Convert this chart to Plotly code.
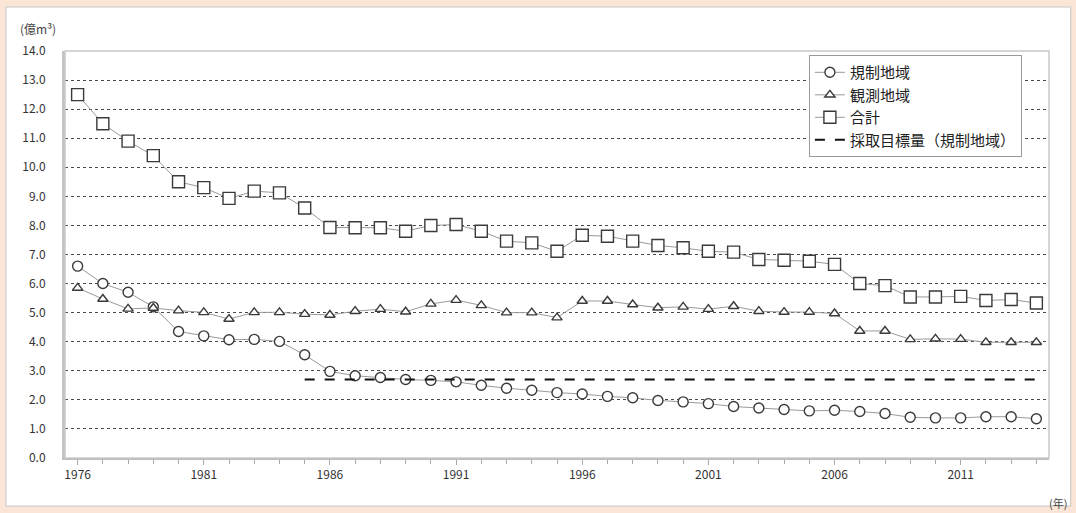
import plotly.graph_objects as go

years = list(range(1976, 2015))

regulated = [6.6, 6.0, 5.7, 5.2, 4.35, 4.2, 4.07, 4.08, 4.01, 3.55, 2.98, 2.83,
             2.77, 2.7, 2.67, 2.62, 2.5, 2.4, 2.33, 2.25, 2.2, 2.12, 2.07, 1.98,
             1.93, 1.87, 1.77, 1.72, 1.67, 1.62, 1.64, 1.6, 1.53, 1.4, 1.38,
             1.38, 1.42, 1.42, 1.35]

observed = [5.85, 5.47, 5.13, 5.16, 5.07, 5.01, 4.78, 5.01, 5.01, 4.95, 4.92, 5.05,
            5.12, 5.03, 5.3, 5.43, 5.25, 5.0, 5.0, 4.83, 5.4, 5.4, 5.28, 5.17,
            5.2, 5.12, 5.22, 5.05, 5.02, 5.02, 4.97, 4.37, 4.37, 4.08, 4.1,
            4.09, 3.98, 3.98, 3.98]

total = [12.5, 11.5, 10.9, 10.4, 9.5, 9.3, 8.93, 9.18, 9.12, 8.6, 7.93, 7.92,
         7.92, 7.8, 8.0, 8.03, 7.8, 7.46, 7.4, 7.11, 7.66, 7.63, 7.46, 7.31,
         7.23, 7.11, 7.08, 6.83, 6.8, 6.77, 6.66, 6.0, 5.93, 5.54, 5.54,
         5.56, 5.42, 5.45, 5.33]

target_years = list(range(1985, 2015))
target = [2.7] * len(target_years)

names = ["規制地域", "観測地域", "合計", "採取目標量（規制地域）"]
x_ticks = [1976, 1981, 1986, 1991, 1996, 2001, 2006, 2011]
y_ticks = [i * 1.0 for i in range(0, 15)]

FONT = "Noto Sans CJK JP, sans-serif"
MK_LINE = dict(color="#3a3a3a", width=1.4)

fig = go.Figure()

fig.add_trace(go.Scatter(
    x=years, y=regulated, name=names[0], mode="lines+markers",
    line=dict(color="#9a9a9a", width=1),
    marker=dict(symbol="circle", size=10, color="white", line=MK_LINE)))
fig.add_trace(go.Scatter(
    x=years, y=observed, name=names[1], mode="lines+markers",
    line=dict(color="#9a9a9a", width=1),
    marker=dict(symbol="triangle-up", size=9, color="white", line=MK_LINE)))
fig.add_trace(go.Scatter(
    x=years, y=total, name=names[2], mode="lines+markers",
    line=dict(color="#9a9a9a", width=1),
    marker=dict(symbol="square", size=12, color="white", line=MK_LINE)))
fig.add_trace(go.Scatter(
    x=target_years, y=target, name=names[3], mode="lines",
    line=dict(color="#111111", width=2, dash="10px,10px")))

fig.update_layout(
    width=1076, height=513,
    margin=dict(l=65, r=27, t=51, b=55),
    paper_bgcolor="#fbe5d6",
    plot_bgcolor="white",
    font=dict(family=FONT, size=12, color="#333"),
    showlegend=True,
    legend=dict(
        x=0.756, y=0.99, xanchor="left", yanchor="top",
        bgcolor="white", bordercolor="#999", borderwidth=1,
        font=dict(family=FONT, size=15, color="#222"),
        tracegroupgap=0, itemwidth=30,
    ),
    shapes=[
        dict(type="rect", xref="paper", yref="paper",
             x0=-0.06, x1=1.022, y0=-0.118, y1=1.108,
             fillcolor="white", line=dict(color="#c8c8c8", width=1),
             layer="below"),
        dict(type="rect", xref="paper", yref="paper",
             x0=0, x1=1, y0=0, y1=1,
             line=dict(color="#c8c8c8", width=1.5)),
    ],
    annotations=[
        dict(text="(億m³)", xref="paper", yref="paper",
             x=-0.048, y=1.055, xanchor="left", yanchor="middle",
             showarrow=False, font=dict(size=12, color="#444")),
        dict(text="(年)", xref="paper", yref="paper",
             x=0.998, y=-0.11, xanchor="left", yanchor="middle",
             showarrow=False, font=dict(size=11, color="#444")),
    ],
)

fig.update_xaxes(
    range=[1975.5, 2014.5],
    tickmode="array", tickvals=x_ticks, ticktext=[str(v) for v in x_ticks],
    ticks="outside", ticklen=5, tickcolor="#aaa",
    minor=dict(ticks="outside", ticklen=4, tickcolor="#aaa", dtick=1, tick0=1976, showgrid=False),
    showgrid=False, zeroline=False,
    showline=True, linecolor="#bdbdbd", linewidth=2,
    tickfont=dict(size=12, color="#333"),
)
fig.update_yaxes(
    range=[0, 14],
    tickmode="array", tickvals=y_ticks, ticktext=[f"{v:.1f}" for v in y_ticks],
    showgrid=True, gridcolor="#4a4a4a", gridwidth=1, griddash="3px,3px",
    zeroline=False,
    showline=True, linecolor="#c4c4c4", linewidth=3,
    ticks="", ticklabelstandoff=14, tickfont=dict(size=12, color="#333"),
)

fig.write_html("out.html", config={"displayModeBar": False},
               post_script="document.body.style.margin='0px';")
